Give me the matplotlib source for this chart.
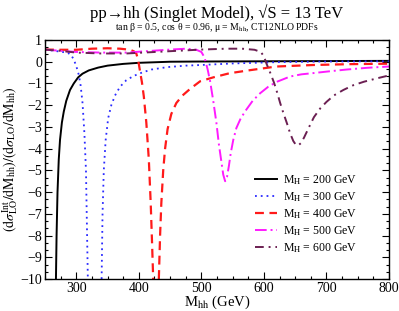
import matplotlib
matplotlib.use("Agg")
import matplotlib.pyplot as plt
from matplotlib.ticker import MultipleLocator

plt.rcParams['font.family'] = ['Liberation Serif', 'DejaVu Serif']
plt.rcParams['mathtext.fontset'] = 'stix'

# MH = 200 GeV
x200 = [267.5, 268.5, 270, 272, 274, 277, 280, 284, 290, 296, 303, 310, 320, 335, 350, 375, 400, 450, 500, 600, 700, 800]
y200 = [-10, -8, -6, -4.5, -3.6, -2.8, -2.3, -1.8, -1.3, -1.0, -0.72, -0.55, -0.4, -0.27, -0.18, -0.1, -0.05, 0.0, 0.01, 0.02, 0.03, 0.04]

# MH = 300 GeV
x300a = [250, 260, 270, 280, 287, 292, 296, 300, 304, 307, 310, 313, 315.5, 318.5]
y300a = [0.55, 0.52, 0.48, 0.44, 0.4, 0.3, 0.1, -0.2, -0.6, -1.1, -1.9, -3.3, -5.0, -10]
x300b = [340.5, 342, 344, 347, 351, 356, 362, 370, 380, 392, 405, 420, 445, 475, 500, 550, 620, 700, 800]
y300b = [-10, -7.0, -5.0, -3.6, -2.6, -2.0, -1.55, -1.15, -0.85, -0.65, -0.5, -0.36, -0.25, -0.18, -0.15, -0.08, -0.02, 0.01, 0.02]

# MH = 400 GeV
x400a = [250, 275, 300, 325, 350, 370, 386, 392, 396, 399, 402, 405, 408, 412, 416, 419, 421, 423]
y400a = [0.56, 0.55, 0.55, 0.6, 0.62, 0.6, 0.55, 0.48, 0.38, 0.07, -0.45, -0.95, -1.6, -2.8, -4.5, -6.5, -8.2, -10]
x400b = [432, 434, 436, 439, 442, 446, 452, 460, 470, 482, 498, 519, 545, 575, 620, 680, 740, 800]
y400b = [-10, -8.0, -6.5, -5.0, -4.0, -3.1, -2.4, -1.9, -1.55, -1.25, -0.9, -0.72, -0.53, -0.4, -0.22, -0.15, -0.11, -0.09]

# MH = 500 GeV
x500 = [250, 275, 300, 340, 380, 420, 450, 476, 492, 500, 505, 510, 514, 519, 524, 528, 532, 535, 538, 541, 544, 547, 551, 556, 563, 572, 582, 594, 607, 621, 642, 660, 680, 705, 732, 765, 800]
y500 = [0.56, 0.5, 0.45, 0.42, 0.42, 0.5, 0.56, 0.6, 0.55, 0.45, 0.2, -0.35, -0.9, -1.8, -2.8, -3.8, -4.6, -5.2, -5.5, -5.3, -4.8, -4.2, -3.6, -3.05, -2.6, -2.2, -1.8, -1.45, -1.15, -0.92, -0.68, -0.58, -0.52, -0.44, -0.36, -0.28, -0.22]

# MH = 600 GeV
x600 = [250, 275, 300, 340, 380, 420, 460, 500, 540, 565, 585, 595, 600, 604, 610, 616, 621, 626, 631, 637, 642, 647, 651, 655, 659, 664, 669, 674, 680, 690, 700, 712, 727, 743, 760, 780, 800]
y600 = [0.56, 0.5, 0.42, 0.38, 0.38, 0.44, 0.5, 0.56, 0.6, 0.6, 0.55, 0.45, 0.25, -0.08, -0.5, -0.95, -1.4, -1.9, -2.35, -2.85, -3.3, -3.65, -3.82, -3.85, -3.75, -3.5, -3.2, -2.9, -2.55, -2.15, -1.85, -1.55, -1.3, -1.08, -0.92, -0.77, -0.63]

labels = ["M$_{\\rm H}$ = 200 GeV", "M$_{\\rm H}$ = 300 GeV", "M$_{\\rm H}$ = 400 GeV",
          "M$_{\\rm H}$ = 500 GeV", "M$_{\\rm H}$ = 600 GeV"]

fig = plt.figure(figsize=(3.99, 3.11), dpi=100)
ax = fig.add_axes([45/399, 1-279/311, (389-45)/399, (279-40)/311])

ax.plot(x200, y200, color='black', lw=1.4, ls='-', label=labels[0])
ax.plot(x300a, y300a, color='#2a2aff', lw=1.3, ls=(0, (1, 2.2)), label=labels[1])
ax.plot(x300b, y300b, color='#2a2aff', lw=1.3, ls=(0, (1, 2.2)))
ax.plot(x400a, y400a, color='#ff1a1a', lw=1.6, ls=(0, (4, 2.5)), label=labels[2])
ax.plot(x400b, y400b, color='#ff1a1a', lw=1.6, ls=(0, (4, 2.5)))
ax.plot(x500, y500, color='#ff1aff', lw=1.4, ls=(0, (6, 2, 1, 2)), label=labels[3])
ax.plot(x600, y600, color='#6b1f52', lw=1.4, ls=(0, (4.5, 2.5, 1, 2.5)), label=labels[4])

ax.set_xlim(250, 800)
ax.set_ylim(-10, 1)
ax.xaxis.set_major_locator(MultipleLocator(100))
ax.xaxis.set_minor_locator(MultipleLocator(25))
ax.yaxis.set_major_locator(MultipleLocator(1))
ax.yaxis.set_minor_locator(MultipleLocator(1/3))
ax.tick_params(which='both', direction='in', top=True, right=True, labelsize=10, pad=2)
ax.tick_params(which='major', length=5, width=0.8)
ax.tick_params(which='minor', length=2.5, width=0.8)
for s in ax.spines.values():
    s.set_linewidth(1.0)

ax.set_xlabel("M$_{\\rm hh}$ (GeV)", fontsize=10.5, labelpad=-1)
ax.set_ylabel("$(\\mathrm{d}\\sigma^{\\rm Int}_{\\rm LO}/\\mathrm{dM}_{\\rm hh})/(\\mathrm{d}\\sigma_{\\rm LO}/\\mathrm{dM}_{\\rm hh})$",
              fontsize=10, labelpad=0)

fig.text(217/399, 1-13/311, "pp\u2192hh (Singlet Model), \u221aS = 13 TeV", ha='center', va='center', fontsize=12)
fig.text(217/399, 1-28/311, "tan \u03b2 = 0.5, cos \u03b8 = 0.96, \u03bc = M$_{\\rm hh}$, CT12NLO PDFs", ha='center', va='center', fontsize=7)

ax.legend(loc='lower left', frameon=False, fontsize=8.5, handlelength=1.9, handletextpad=0.5,
          labelspacing=0.3, borderaxespad=0, borderpad=0, bbox_to_anchor=(0.61, 0.1))

fig.savefig("out.png", dpi=100)
